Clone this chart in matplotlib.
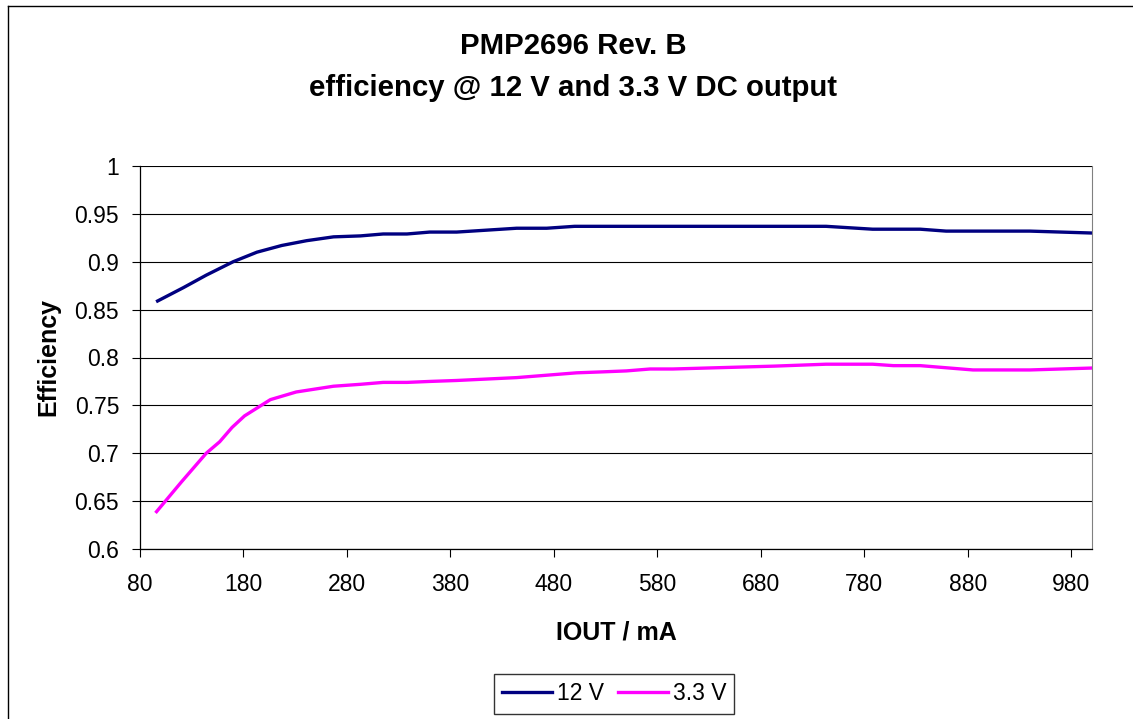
import matplotlib.pyplot as plt
from matplotlib.lines import Line2D

# values
iout_12v = [97, 122, 144, 170, 193, 217, 241, 267, 293, 315, 338, 360, 386,
            415, 444, 473, 500, 743, 788, 834, 859, 885, 940, 1000]
eff_12v = [0.859, 0.873, 0.886, 0.900, 0.910, 0.917, 0.922, 0.926, 0.927,
           0.929, 0.929, 0.931, 0.931, 0.933, 0.935, 0.935, 0.937, 0.937,
           0.934, 0.934, 0.932, 0.932, 0.932, 0.930]

iout_3v3 = [96, 120, 144, 157, 169, 181, 206, 231, 267, 293, 315, 338, 360,
            386, 444, 502, 527, 550, 573, 595, 693, 743, 788, 808, 834, 885,
            940, 1000]
eff_3v3 = [0.639, 0.670, 0.700, 0.712, 0.727, 0.739, 0.756, 0.764, 0.770,
           0.772, 0.774, 0.774, 0.775, 0.776, 0.779, 0.784, 0.785, 0.786,
           0.788, 0.788, 0.791, 0.793, 0.793, 0.7915, 0.7915, 0.787, 0.787,
           0.789]

x_ticks = [80, 180, 280, 380, 480, 580, 680, 780, 880, 980]
y_ticks = [0.6, 0.65, 0.7, 0.75, 0.8, 0.85, 0.9, 0.95, 1.0]
y_tick_labels = ["0.6", "0.65", "0.7", "0.75", "0.8", "0.85", "0.9", "0.95", "1"]

plt.rcParams['font.family'] = ['Liberation Sans', 'DejaVu Sans']

W, H = 1133, 719
fig = plt.figure(figsize=(W / 100, H / 100), dpi=100)
ax = fig.add_axes([140 / W, 1 - 549 / H, (1092 - 140) / W, (549 - 166) / H])

ax.plot(iout_12v, eff_12v, color="#000080", lw=2.4, label="12 V", solid_joinstyle="round")
ax.plot(iout_3v3, eff_3v3, color="#FF00FF", lw=2.4, label="3.3 V", solid_joinstyle="round")

ax.set_xlim(80, 1000)
ax.set_ylim(0.6, 1.0)
ax.set_xticks(x_ticks)
ax.set_yticks(y_ticks)
ax.set_yticklabels(y_tick_labels)
ax.tick_params(axis="both", direction="out", length=5.5, width=0.8, color="black",
               labelsize=16.5)
ax.tick_params(axis="x", pad=12)
ax.tick_params(axis="y", pad=9.5)
ax.yaxis.grid(True, color="black", lw=0.8)
ax.set_axisbelow(True)

ax.spines["top"].set_visible(False)
ax.spines["right"].set_color("#808080")
for s in ["left", "bottom"]:
    ax.spines[s].set_color("black")
    ax.spines[s].set_linewidth(0.9)

ax.set_xlabel("IOUT / mA", fontsize=18, fontweight="bold")
ax.xaxis.set_label_coords(0.5, -(621 - 549) / (549 - 166))
ax.set_ylabel("Efficiency", fontsize=18, fontweight="bold")
ax.yaxis.set_label_coords(-(140 - 60) / (1092 - 140), 0.5)

fig.text(573 / W, 1 - 46 / H, "PMP2696 Rev. B", ha="center", va="center",
         fontsize=21.2, fontweight="bold")
fig.text(573 / W, 1 - 88 / H, "efficiency @ 12 V and 3.3 V DC output",
         ha="center", va="center", fontsize=21.2, fontweight="bold")

leg = fig.legend(loc="center", bbox_to_anchor=(614 / W, 1 - 694 / H), ncol=2,
                 fontsize=16.5, frameon=True, fancybox=False, handlelength=2.2,
                 handletextpad=0.2, columnspacing=0.6, borderpad=0.35,
                 borderaxespad=0)
leg.get_frame().set_edgecolor("black")
leg.get_frame().set_linewidth(1.0)

# outer chart frame (top and left edges visible)
fig.add_artist(Line2D([8 / W, 1], [1 - 6 / H, 1 - 6 / H], color="black", lw=1.0))
fig.add_artist(Line2D([8 / W, 8 / W], [0, 1 - 6 / H], color="black", lw=1.0))

fig.savefig("out.png", dpi=100)
